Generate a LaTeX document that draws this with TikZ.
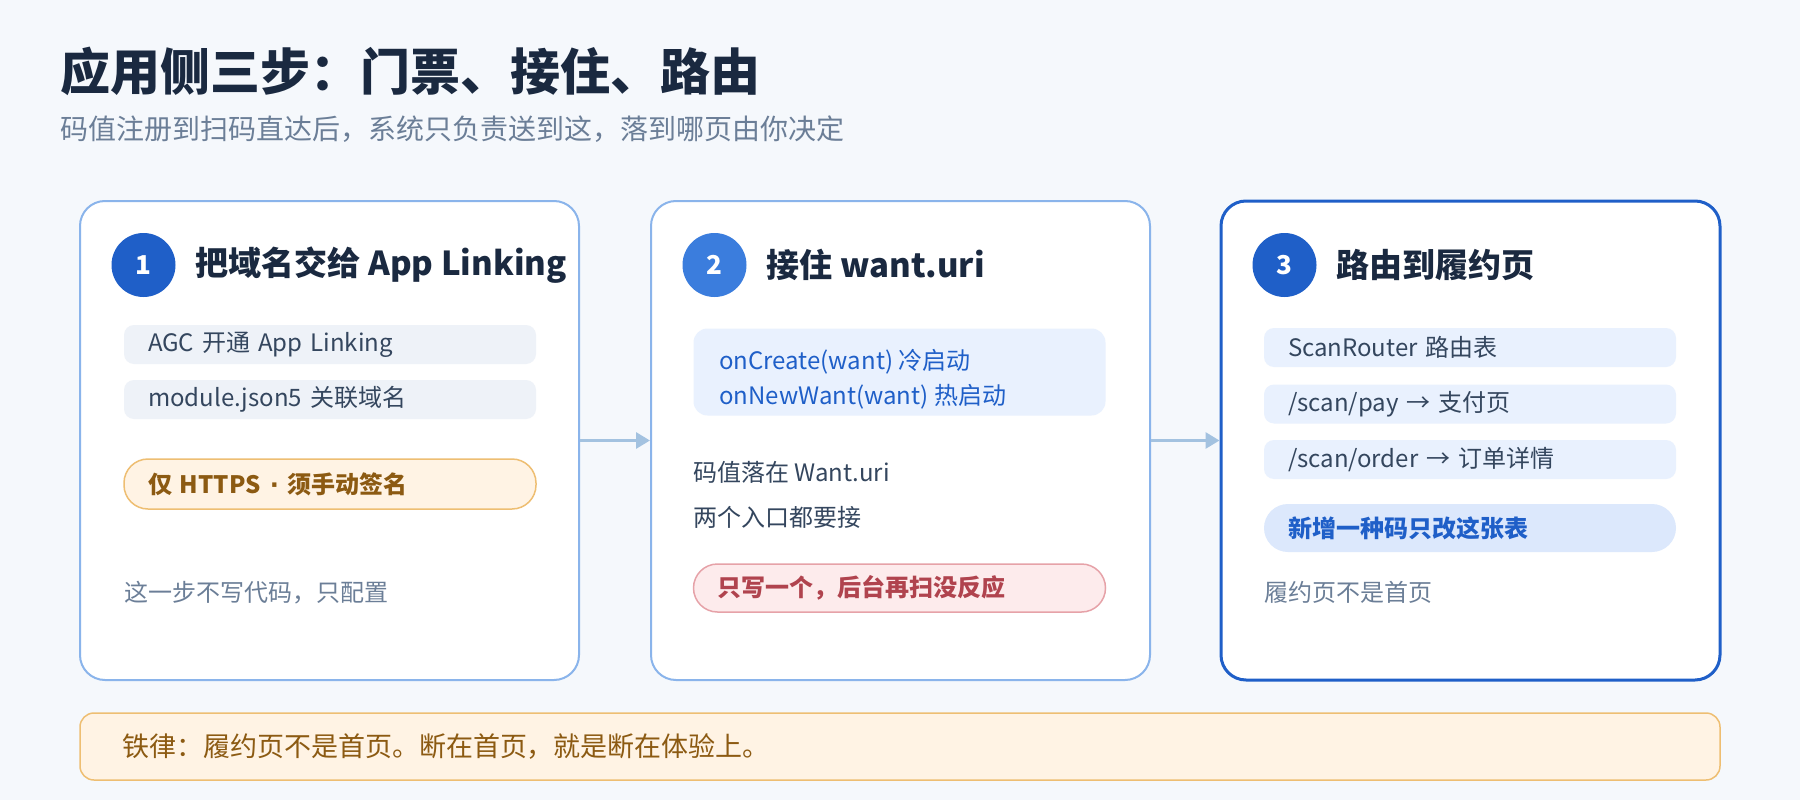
\documentclass[tikz,border=0pt]{standalone}
\usepackage{fontspec}
\setmainfont{Noto Sans CJK SC}
\newfontfamily\dotfont{DejaVu Sans}
\usetikzlibrary{arrows.meta,positioning}

\definecolor{pagebg}{HTML}{F5F8FC}
\definecolor{ink}{HTML}{1A2940}
\definecolor{muted}{HTML}{6B7E97}
\definecolor{bodytext}{HTML}{34465E}
\definecolor{edge}{HTML}{8AB4EB}
\definecolor{deepblue}{HTML}{1F5FC8}
\definecolor{midblue}{HTML}{3B7DDD}
\definecolor{greyfill}{HTML}{EEF2F8}
\definecolor{bluefill}{HTML}{E9F1FE}
\definecolor{bluepill}{HTML}{DCE8FC}
\definecolor{amberfill}{HTML}{FFF3E4}
\definecolor{amberline}{HTML}{EEBE72}
\definecolor{ambertext}{HTML}{8C5A12}
\definecolor{rosefill}{HTML}{FDEBEC}
\definecolor{roseline}{HTML}{E6A2A8}
\definecolor{rosetext}{HTML}{B0434E}
\definecolor{flow}{HTML}{A3C2E0}

\newcommand{\pxfont}[1]{\fontsize{#1}{#1}\selectfont}

\begin{document}
\begin{tikzpicture}[x=1pt,y=-1pt]
                      \tikzstyle{card}=[rectangle,draw=edge,line width=2pt,fill=white,rounded corners=25pt,minimum width=499pt,minimum height=479pt]
                      \tikzstyle{num}=[circle,fill=deepblue,text=white,minimum size=64pt,inner sep=0pt,font=\pxfont{26}\bfseries]
                      \tikzstyle{head}=[inner sep=0pt,text=ink,font=\pxfont{33}\bfseries]
                      \tikzstyle{tag}=[rectangle,rounded corners=10pt,minimum height=39pt,text width=364pt,inner xsep=24pt,inner ysep=0pt,align=left,font=\pxfont{24}]
                      \tikzstyle{pill}=[tag,rounded corners=24pt,minimum height=48pt,line width=1.5pt,font=\pxfont{24}\bfseries]
                      \tikzstyle{note}=[anchor=west,inner sep=0pt,text=muted,font=\pxfont{24}]
                      \tikzstyle{link}=[draw=flow,line width=3pt,-{Triangle[length=14pt,width=16pt]}]
                      \fill[pagebg] (0,0) rectangle (1800,800);
                      \useasboundingbox (0,0) rectangle (1800,800);
                      % title
                      \node[anchor=west,inner sep=0pt,text=ink,font=\pxfont{50}\bfseries] (title) at (60,71) {应用侧三步：门票、接住、路由};
                      \node[anchor=west,inner sep=0pt,text=muted,font=\pxfont{28}] (sub) at (60,129) {码值注册到扫码直达后，系统只负责送到这，落到哪页由你决定};
                      % cards
                      \node[card] (k1) at (329.5,440.5) {};
                      \node[card] (k2) at (900.5,440.5) {};
                      \node[card,draw=deepblue,line width=3pt] (k3) at (1470.5,440.5) {};
                      \draw[link] (k1.east) -- (k2.west);
                      \draw[link] (k2.east) -- (k3.west);
                      % step 1
                      \node[num] (n1) at (143.5,265) {1};
                      \node[head,right=20pt of n1] (h1) {把域名交给 App Linking};
                      \node[tag,fill=greyfill,text=bodytext] (agc) at (330,344.5) {AGC 开通 App Linking};
                      \node[tag,fill=greyfill,text=bodytext] (mod) at (330,399.5) {module.json5 关联域名};
                      \node[pill,minimum height=50pt,fill=amberfill,draw=amberline,text=ambertext] (https) at (330,484) {仅 HTTPS\hspace{9pt}{\dotfont ·}\hspace{9pt}须手动签名};
                      \node[note] (cfg) at (124,593) {这一步不写代码，只配置};
                      % step 2
                      \node[num,fill=midblue] (n2) at (714.5,265) {2};
                      \node[head,right=20pt of n2] (h2) {接住 want.uri};
                      \node[tag,rounded corners=14pt,minimum height=87pt,fill=bluefill] (entry) at (899.5,372) {};
                      \node[anchor=west,inner sep=0pt,align=left,text=deepblue,font=\fontsize{24}{35}\selectfont] (life) at (719,379) {onCreate(want) 冷启动\\onNewWant(want) 热启动};
                      \node[note,text=bodytext] (uri) at (693,472) {码值落在 Want.uri};
                      \node[note,text=bodytext] (both) at (693,517) {两个入口都要接};
                      \node[pill,fill=rosefill,draw=roseline,text=rosetext] (warn) at (899.5,588) {只写一个，后台再扫没反应};
                      % step 3
                      \node[num] (n3) at (1284.5,265) {3};
                      \node[head,right=20pt of n3] (h3) {路由到履约页};
                      \node[tag,fill=bluefill,text=bodytext] (router) at (1470,347.5) {ScanRouter 路由表};
                      \node[tag,fill=bluefill,text=bodytext] (pay) at (1470,404) {/scan/pay → 支付页};
                      \node[tag,fill=bluefill,text=bodytext] (order) at (1470,459.5) {/scan/order → 订单详情};
                      \node[pill,fill=bluepill,text=deepblue] (only) at (1470,528) {新增一种码只改这张表};
                      \node[note] (home) at (1264,592) {履约页不是首页};
                      % rule
                      \node[tag,rounded corners=14pt,minimum height=67pt,text width=1556pt,inner xsep=42pt,fill=amberfill,draw=amberline,line width=1.5pt,text=ambertext,font=\pxfont{27}] (rule) at (900,746.5) {铁律：履约页不是首页。断在首页，就是断在体验上。};
                  \end{tikzpicture}
\end{document}
